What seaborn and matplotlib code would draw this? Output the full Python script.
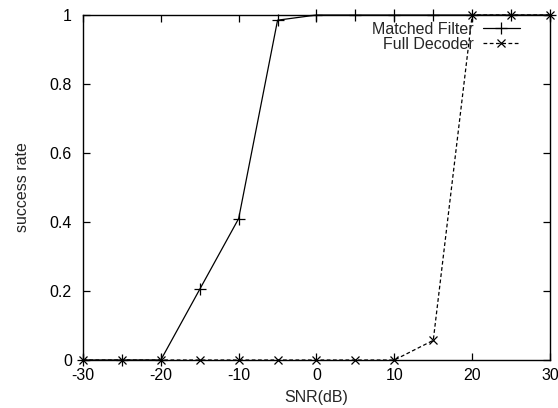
import matplotlib
matplotlib.use("Agg")
import matplotlib.pyplot as plt
import seaborn as sns
import pandas as pd

# data
snr = [-30, -25, -20, -15, -10, -5, 0, 5, 10, 15, 20, 25, 30]
matched_filter = [0, 0, 0, 0.205, 0.41, 0.985, 1, 1, 1, 1, 1, 1, 1]
full_decoder = [0, 0, 0, 0, 0, 0, 0, 0, 0, 0.057, 1, 1, 1]

sns.set_theme(style="ticks")
plt.rcParams['font.family'] = ['Liberation Sans', 'DejaVu Sans']
plt.rcParams['axes.unicode_minus'] = False
fs = 11.5

fig = plt.figure(figsize=(5.58, 4.08), dpi=100)
ax = fig.add_axes([0.1487, 0.1176, 0.8370, 0.8456])

sns.lineplot(x=snr, y=matched_filter, ax=ax, color='black', lw=0.9,
             marker='+', markersize=8, mew=0.9, mec='black',
             clip_on=False, label='Matched Filter')
sns.lineplot(x=snr, y=full_decoder, ax=ax, color='black', lw=0.9,
             linestyle=(0, (3, 2)), marker='x', markersize=5.5, mew=0.9,
             mec='black', clip_on=False, label='Full Decoder')

ax.set_xlim(-30, 30)
ax.set_ylim(0, 1)
ax.set_xticks([-30, -20, -10, 0, 10, 20, 30])
ax.set_yticks([0, 0.2, 0.4, 0.6, 0.8, 1])
ax.set_yticklabels(['0', '0.2', '0.4', '0.6', '0.8', '1'])
ax.tick_params(direction='in', length=5, width=0.9, top=True, right=True,
               labelsize=fs, colors='black')
ax.tick_params(axis='x', pad=6)
ax.tick_params(axis='y', pad=8)
for s in ax.spines.values():
    s.set_linewidth(1.0)
    s.set_color('black')

ax.set_xlabel('SNR(dB)', fontsize=fs, labelpad=5)
ax.set_ylabel('success rate', fontsize=fs, labelpad=14)

leg = ax.legend(loc='upper right', bbox_to_anchor=(0.959, 1.012),
                frameon=False, fontsize=fs, markerfirst=False,
                handlelength=2.3, borderaxespad=0.3,
                labelspacing=0.0, handletextpad=0.6)
for t in leg.get_texts():
    t.set_ha('right')

fig.savefig('out.png', dpi=100)
